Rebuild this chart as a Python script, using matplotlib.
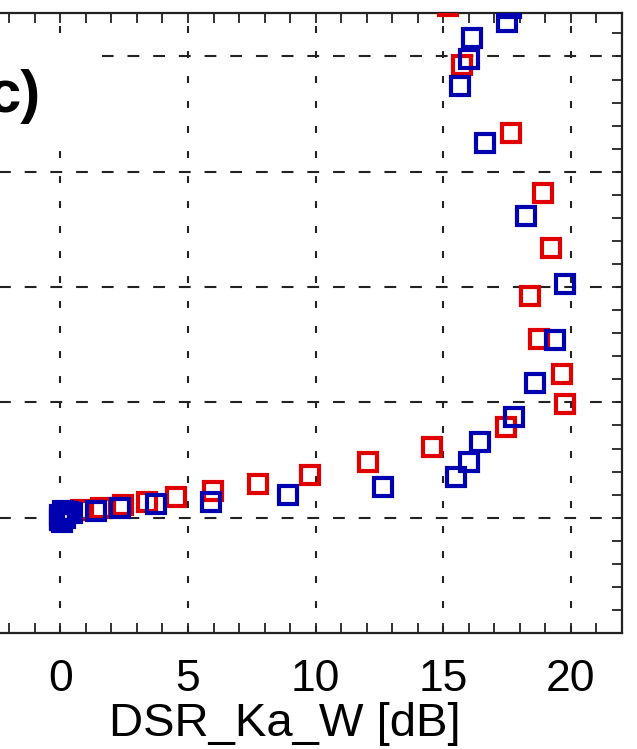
import matplotlib
matplotlib.use("Agg")
import matplotlib.pyplot as plt
from matplotlib.patches import Rectangle
from matplotlib.ticker import MultipleLocator

plt.rcParams['font.family'] = ['Liberation Sans', 'DejaVu Sans']
plt.rcParams['lines.scale_dashes'] = False

# ---- data ----
red_x = [0.0, 0.1, 0.3, 0.79, 1.61, 2.44, 3.38, 4.52, 5.97, 7.74, 9.78, 12.06,
         14.54, 17.45, 19.76, 19.65, 18.74, 18.39, 19.21, 18.90, 17.64, 15.72, 15.17]
red_y = [1.00, 1.02, 1.04, 1.07, 1.08, 1.11, 1.14, 1.18, 1.23, 1.29, 1.37, 1.48,
         1.61, 1.79, 1.99, 2.25, 2.55, 2.92, 3.34, 3.82, 4.34, 4.93, 5.44]

blue_x = [0.0, 0.05, 0.1, 0.15, 0.0, 0.05, 0.2, 0.1, 0.3, 0.47, 1.38, 2.32, 3.73,
          5.89, 8.92, 12.65, 15.48, 15.99, 16.42, 17.76, 18.59, 19.37, 19.76,
          18.23, 16.62, 15.64, 15.99, 16.11, 17.49, 17.64]
blue_y = [0.98, 1.00, 1.02, 1.04, 1.02, 0.96, 1.00, 1.06, 1.05, 1.04, 1.06, 1.08, 1.12,
          1.14, 1.20, 1.27, 1.35, 1.48, 1.66, 1.87, 2.17, 2.54, 3.03,
          3.62, 4.25, 4.74, 4.98, 5.16, 5.30, 5.42]

x_ticks = [0, 5, 10, 15, 20]
x_label = "DSR_Ka_W [dB]"
panel_label = "c)"

W, H = 637, 749
fig = plt.figure(figsize=(W / 100, H / 100), dpi=100)

# axes geometry in pixels (left part of the panel lies outside the picture)
x_left_px, x_right_px = -52, 622
y_top_px, y_bot_px = 13, 633
ax = fig.add_axes([x_left_px / W, 1 - y_bot_px / H,
                   (x_right_px - x_left_px) / W, (y_bot_px - y_top_px) / H])

ax.set_xlim(-4.4, 22)
ax.set_ylim(0, 5.377)

ax.plot(red_x, red_y, linestyle='none', marker='s', markersize=13,
        markerfacecolor='none', markeredgecolor='#e00000', markeredgewidth=3.0,
        zorder=3)
ax.plot(blue_x, blue_y, linestyle='none', marker='s', markersize=13,
        markerfacecolor='none', markeredgecolor='#0000b0', markeredgewidth=3.0,
        zorder=4)

ax.set_xticks(x_ticks)
ax.xaxis.set_minor_locator(MultipleLocator(1))
ax.yaxis.set_major_locator(MultipleLocator(1))
ax.yaxis.set_minor_locator(MultipleLocator(0.2))

ax.tick_params(which='both', direction='in', top=True, right=True, left=False,
               labelleft=False, length=7, width=1.3, color='#222222')
ax.tick_params(axis='x', which='major', labelsize=32, pad=19)

# grids: horizontal longer dashes, vertical shorter dashes
ax.grid(False)
for xv in x_ticks:
    ax.axvline(xv, color='#222222', linewidth=1.5, linestyle=(0, (5, 13)), zorder=1)
for yv in [1, 2, 3, 4, 5]:
    ax.axhline(yv, color='#222222', linewidth=1.5, linestyle=(0, (8.5, 10)), zorder=1)

for s in ['top', 'right', 'bottom']:
    ax.spines[s].set_linewidth(1.6)
    ax.spines[s].set_color('#222222')
ax.spines['left'].set_visible(False)

ax.set_xlabel(x_label, fontsize=34, labelpad=1)

# white box behind the panel label
fig.add_artist(Rectangle((0, 1 - 146 / H), 102 / W, 104 / H,
                         transform=fig.transFigure, facecolor='white',
                         edgecolor='none', zorder=1))
fig.text(41 / W, 1 - 97 / H, panel_label, ha='right', va='center',
         fontsize=43, fontweight='bold', zorder=2)

fig.savefig("out.png", dpi=100)
